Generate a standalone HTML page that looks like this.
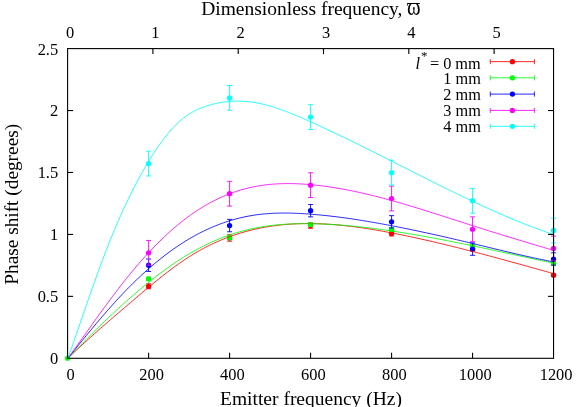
<!DOCTYPE html>
<html><head><meta charset="utf-8"><title>Phase shift</title>
<style>html,body{margin:0;padding:0;background:#fff;}svg{display:block;will-change:transform;}text{font-family:"Liberation Serif",serif;fill:#000;}</style></head><body>
<svg width="581" height="407" viewBox="0 0 581 407">
<rect x="0" y="0" width="581" height="407" fill="#ffffff"/>
<defs><clipPath id="pc"><rect x="68.0" y="48.3" width="485.5" height="309.9"/></clipPath></defs>
<g font-size="16.45">
<text x="70.60" y="380.3" text-anchor="middle">0</text>
<text x="151.52" y="380.3" text-anchor="middle">200</text>
<text x="232.43" y="380.3" text-anchor="middle">400</text>
<text x="313.35" y="380.3" text-anchor="middle">600</text>
<text x="394.27" y="380.3" text-anchor="middle">800</text>
<text x="475.18" y="380.3" text-anchor="middle">1000</text>
<text x="556.10" y="380.3" text-anchor="middle">1200</text>
<text x="70.10" y="38.0" text-anchor="middle">0</text>
<text x="155.40" y="38.0" text-anchor="middle">1</text>
<text x="240.70" y="38.0" text-anchor="middle">2</text>
<text x="326.00" y="38.0" text-anchor="middle">3</text>
<text x="411.30" y="38.0" text-anchor="middle">4</text>
<text x="496.60" y="38.0" text-anchor="middle">5</text>
<text x="58.2" y="364.40" text-anchor="end">0</text>
<text x="58.2" y="302.42" text-anchor="end">0.5</text>
<text x="58.2" y="240.44" text-anchor="end">1</text>
<text x="58.2" y="178.46" text-anchor="end">1.5</text>
<text x="58.2" y="116.48" text-anchor="end">2</text>
<text x="58.2" y="54.50" text-anchor="end">2.5</text>
</g>
<text x="201.2" y="14.8" font-size="19.5" text-anchor="start">Dimensionless frequency, </text>
<text transform="translate(407.0,15.1) scale(0.85,1)" font-size="24.3">&#x3D6;</text>
<text x="311" y="405" font-size="19.5" text-anchor="middle">Emitter frequency (Hz)</text>
<text transform="translate(18.0,204.3) rotate(-90)" font-size="19.32" text-anchor="middle">Phase shift (degrees)</text>
<path d="M148.59,283.82V288.78M146.09,283.82H151.09M146.09,288.78H151.09" stroke="#ff0000" stroke-width="0.9" fill="none"/><circle cx="148.59" cy="286.30" r="2.65" fill="#ff0000"/>
<path d="M229.58,234.74V241.18M227.08,234.74H232.08M227.08,241.18H232.08" stroke="#ff0000" stroke-width="0.9" fill="none"/><circle cx="229.58" cy="237.96" r="2.65" fill="#ff0000"/>
<path d="M310.57,222.84V228.29M308.07,222.84H313.07M308.07,228.29H313.07" stroke="#ff0000" stroke-width="0.9" fill="none"/><circle cx="310.57" cy="225.56" r="2.65" fill="#ff0000"/>
<path d="M391.57,231.02V235.98M389.07,231.02H394.07M389.07,235.98H394.07" stroke="#ff0000" stroke-width="0.9" fill="none"/><circle cx="391.57" cy="233.50" r="2.65" fill="#ff0000"/>
<path d="M472.56,247.75V250.73M470.06,247.75H475.06M470.06,250.73H475.06" stroke="#ff0000" stroke-width="0.9" fill="none"/><circle cx="472.56" cy="249.24" r="2.65" fill="#ff0000"/>
<path d="M553.55,273.66V276.63M551.05,273.66H556.05M551.05,276.63H556.05" stroke="#ff0000" stroke-width="0.9" fill="none"/><circle cx="553.55" cy="275.15" r="2.65" fill="#ff0000"/>
<circle cx="67.60" cy="358.20" r="2.65" fill="#00ff00"/>
<path d="M148.59,277.13V280.60M146.09,277.13H151.09M146.09,280.60H151.09" stroke="#00ff00" stroke-width="0.9" fill="none"/><circle cx="148.59" cy="278.87" r="2.65" fill="#00ff00"/>
<path d="M229.58,236.35V239.32M227.08,236.35H232.08M227.08,239.32H232.08" stroke="#00ff00" stroke-width="0.9" fill="none"/><circle cx="229.58" cy="237.83" r="2.65" fill="#00ff00"/>
<path d="M310.57,223.08V226.06M308.07,223.08H313.07M308.07,226.06H313.07" stroke="#00ff00" stroke-width="0.9" fill="none"/><circle cx="310.57" cy="224.57" r="2.65" fill="#00ff00"/>
<path d="M391.57,227.55V231.02M389.07,227.55H394.07M389.07,231.02H394.07" stroke="#00ff00" stroke-width="0.9" fill="none"/><circle cx="391.57" cy="229.28" r="2.65" fill="#00ff00"/>
<path d="M472.56,244.65V248.12M470.06,244.65H475.06M470.06,248.12H475.06" stroke="#00ff00" stroke-width="0.9" fill="none"/><circle cx="472.56" cy="246.39" r="2.65" fill="#00ff00"/>
<path d="M553.55,261.39V264.86M551.05,261.39H556.05M551.05,264.86H556.05" stroke="#00ff00" stroke-width="0.9" fill="none"/><circle cx="553.55" cy="263.12" r="2.65" fill="#00ff00"/>
<path d="M148.59,259.03V271.43M146.09,259.03H151.09M146.09,271.43H151.09" stroke="#0000ff" stroke-width="0.9" fill="none"/><circle cx="148.59" cy="265.23" r="2.65" fill="#0000ff"/>
<path d="M229.58,219.36V231.76M227.08,219.36H232.08M227.08,231.76H232.08" stroke="#0000ff" stroke-width="0.9" fill="none"/><circle cx="229.58" cy="225.56" r="2.65" fill="#0000ff"/>
<path d="M310.57,204.49V216.89M308.07,204.49H313.07M308.07,216.89H313.07" stroke="#0000ff" stroke-width="0.9" fill="none"/><circle cx="310.57" cy="210.69" r="2.65" fill="#0000ff"/>
<path d="M391.57,215.65V228.04M389.07,215.65H394.07M389.07,228.04H394.07" stroke="#0000ff" stroke-width="0.9" fill="none"/><circle cx="391.57" cy="221.84" r="2.65" fill="#0000ff"/>
<path d="M472.56,242.92V255.31M470.06,242.92H475.06M470.06,255.31H475.06" stroke="#0000ff" stroke-width="0.9" fill="none"/><circle cx="472.56" cy="249.12" r="2.65" fill="#0000ff"/>
<path d="M553.55,252.83V265.23M551.05,252.83H556.05M551.05,265.23H556.05" stroke="#0000ff" stroke-width="0.9" fill="none"/><circle cx="553.55" cy="259.03" r="2.65" fill="#0000ff"/>
<path d="M148.59,240.44V265.23M146.09,240.44H151.09M146.09,265.23H151.09" stroke="#ff00ff" stroke-width="0.9" fill="none"/><circle cx="148.59" cy="252.83" r="2.65" fill="#ff00ff"/>
<path d="M229.58,181.31V206.10M227.08,181.31H232.08M227.08,206.10H232.08" stroke="#ff00ff" stroke-width="0.9" fill="none"/><circle cx="229.58" cy="193.71" r="2.65" fill="#ff00ff"/>
<path d="M310.57,172.76V197.55M308.07,172.76H313.07M308.07,197.55H313.07" stroke="#ff00ff" stroke-width="0.9" fill="none"/><circle cx="310.57" cy="185.15" r="2.65" fill="#ff00ff"/>
<path d="M391.57,186.14V210.94M389.07,186.14H394.07M389.07,210.94H394.07" stroke="#ff00ff" stroke-width="0.9" fill="none"/><circle cx="391.57" cy="198.54" r="2.65" fill="#ff00ff"/>
<path d="M472.56,216.89V241.68M470.06,216.89H475.06M470.06,241.68H475.06" stroke="#ff00ff" stroke-width="0.9" fill="none"/><circle cx="472.56" cy="229.28" r="2.65" fill="#ff00ff"/>
<path d="M553.55,236.10V260.89M551.05,236.10H556.05M551.05,260.89H556.05" stroke="#ff00ff" stroke-width="0.9" fill="none"/><circle cx="553.55" cy="248.50" r="2.65" fill="#ff00ff"/>
<path d="M148.59,151.19V175.98M146.09,151.19H151.09M146.09,175.98H151.09" stroke="#00ffff" stroke-width="0.9" fill="none"/><circle cx="148.59" cy="163.58" r="2.65" fill="#00ffff"/>
<path d="M229.58,85.49V110.28M227.08,85.49H232.08M227.08,110.28H232.08" stroke="#00ffff" stroke-width="0.9" fill="none"/><circle cx="229.58" cy="97.88" r="2.65" fill="#00ffff"/>
<path d="M310.57,104.70V129.49M308.07,104.70H313.07M308.07,129.49H313.07" stroke="#00ffff" stroke-width="0.9" fill="none"/><circle cx="310.57" cy="117.10" r="2.65" fill="#00ffff"/>
<path d="M391.57,160.24V185.03M389.07,160.24H394.07M389.07,185.03H394.07" stroke="#00ffff" stroke-width="0.9" fill="none"/><circle cx="391.57" cy="172.63" r="2.65" fill="#00ffff"/>
<path d="M472.56,188.37V213.17M470.06,188.37H475.06M470.06,213.17H475.06" stroke="#00ffff" stroke-width="0.9" fill="none"/><circle cx="472.56" cy="200.77" r="2.65" fill="#00ffff"/>
<path d="M553.55,218.13V242.92M551.05,218.13H556.05M551.05,242.92H556.05" stroke="#00ffff" stroke-width="0.9" fill="none"/><circle cx="553.55" cy="230.52" r="2.65" fill="#00ffff"/>
<g clip-path="url(#pc)" fill="none">
<polyline points="68.00,358.20 70.02,356.24 72.05,354.30 74.07,352.38 76.09,350.47 78.11,348.58 80.14,346.69 82.16,344.83 84.18,342.97 86.21,341.13 88.23,339.29 90.25,337.47 92.28,335.66 94.30,333.86 96.32,332.07 98.34,330.29 100.37,328.51 102.39,326.74 104.41,324.98 106.44,323.22 108.46,321.47 110.48,319.73 112.50,317.99 114.53,316.25 116.55,314.52 118.57,312.79 120.60,311.06 122.62,309.33 124.64,307.60 126.66,305.88 128.69,304.15 130.71,302.42 132.73,300.70 134.76,298.97 136.78,297.25 138.80,295.53 140.82,293.81 142.85,292.10 144.87,290.40 146.89,288.70 148.92,287.01 150.94,285.33 152.96,283.67 154.99,282.01 157.01,280.37 159.03,278.74 161.05,277.12 163.08,275.52 165.10,273.94 167.12,272.38 169.15,270.83 171.17,269.30 173.19,267.80 175.21,266.32 177.24,264.86 179.26,263.42 181.28,262.01 183.31,260.63 185.33,259.27 187.35,257.94 189.38,256.64 191.40,255.37 193.42,254.13 195.44,252.92 197.47,251.74 199.49,250.59 201.51,249.47 203.54,248.38 205.56,247.31 207.58,246.27 209.60,245.26 211.63,244.28 213.65,243.33 215.67,242.40 217.70,241.49 219.72,240.62 221.74,239.77 223.76,238.94 225.79,238.14 227.81,237.37 229.83,236.62 231.86,235.89 233.88,235.19 235.90,234.51 237.93,233.86 239.95,233.23 241.97,232.62 243.99,232.03 246.02,231.47 248.04,230.92 250.06,230.40 252.09,229.90 254.11,229.42 256.13,228.97 258.15,228.53 260.18,228.11 262.20,227.71 264.22,227.34 266.25,226.98 268.27,226.64 270.29,226.32 272.31,226.02 274.34,225.74 276.36,225.48 278.38,225.23 280.41,225.00 282.43,224.79 284.45,224.60 286.48,224.42 288.50,224.27 290.52,224.12 292.54,224.00 294.57,223.89 296.59,223.79 298.61,223.72 300.64,223.65 302.66,223.61 304.68,223.57 306.70,223.56 308.73,223.55 310.75,223.56 312.77,223.59 314.80,223.63 316.82,223.68 318.84,223.74 320.86,223.82 322.89,223.91 324.91,224.01 326.93,224.13 328.96,224.26 330.98,224.40 333.00,224.55 335.02,224.71 337.05,224.88 339.07,225.07 341.09,225.26 343.12,225.47 345.14,225.68 347.16,225.91 349.19,226.14 351.21,226.39 353.23,226.64 355.25,226.91 357.28,227.18 359.30,227.46 361.32,227.75 363.35,228.05 365.37,228.35 367.39,228.66 369.41,228.98 371.44,229.31 373.46,229.64 375.48,229.98 377.51,230.33 379.53,230.68 381.55,231.04 383.57,231.41 385.60,231.78 387.62,232.16 389.64,232.54 391.67,232.92 393.69,233.31 395.71,233.71 397.74,234.11 399.76,234.51 401.78,234.92 403.80,235.34 405.83,235.75 407.85,236.17 409.87,236.60 411.90,237.03 413.92,237.46 415.94,237.90 417.96,238.34 419.99,238.79 422.01,239.24 424.03,239.69 426.06,240.15 428.08,240.61 430.10,241.07 432.12,241.54 434.15,242.01 436.17,242.48 438.19,242.96 440.22,243.44 442.24,243.92 444.26,244.41 446.29,244.90 448.31,245.39 450.33,245.89 452.35,246.38 454.38,246.88 456.40,247.39 458.42,247.89 460.45,248.40 462.47,248.92 464.49,249.43 466.51,249.95 468.54,250.47 470.56,250.99 472.58,251.51 474.61,252.04 476.63,252.56 478.65,253.09 480.68,253.63 482.70,254.16 484.72,254.69 486.74,255.23 488.77,255.77 490.79,256.31 492.81,256.86 494.84,257.40 496.86,257.95 498.88,258.49 500.90,259.04 502.93,259.59 504.95,260.14 506.97,260.70 509.00,261.25 511.02,261.80 513.04,262.36 515.06,262.92 517.09,263.48 519.11,264.03 521.13,264.59 523.16,265.15 525.18,265.72 527.20,266.28 529.23,266.84 531.25,267.40 533.27,267.97 535.29,268.53 537.32,269.09 539.34,269.66 541.36,270.22 543.39,270.79 545.41,271.35 547.43,271.92 549.45,272.48 551.48,273.05 553.50,273.61" stroke="#ff0000" stroke-width="0.85"/>
<polyline points="68.00,358.20 70.02,356.09 72.05,353.99 74.07,351.90 76.09,349.81 78.11,347.74 80.14,345.67 82.16,343.61 84.18,341.56 86.21,339.52 88.23,337.49 90.25,335.47 92.28,333.46 94.30,331.46 96.32,329.47 98.34,327.49 100.37,325.53 102.39,323.57 104.41,321.62 106.44,319.69 108.46,317.77 110.48,315.86 112.50,313.96 114.53,312.07 116.55,310.20 118.57,308.34 120.60,306.49 122.62,304.66 124.64,302.84 126.66,301.03 128.69,299.24 130.71,297.46 132.73,295.69 134.76,293.94 136.78,292.21 138.80,290.49 140.82,288.79 142.85,287.10 144.87,285.43 146.89,283.78 148.92,282.14 150.94,280.52 152.96,278.92 154.99,277.34 157.01,275.78 159.03,274.24 161.05,272.72 163.08,271.21 165.10,269.73 167.12,268.27 169.15,266.83 171.17,265.41 173.19,264.02 175.21,262.65 177.24,261.30 179.26,259.97 181.28,258.67 183.31,257.39 185.33,256.14 187.35,254.91 189.38,253.70 191.40,252.53 193.42,251.37 195.44,250.25 197.47,249.14 199.49,248.07 201.51,247.02 203.54,245.99 205.56,244.99 207.58,244.02 209.60,243.06 211.63,242.14 213.65,241.24 215.67,240.36 217.70,239.51 219.72,238.68 221.74,237.88 223.76,237.10 225.79,236.34 227.81,235.61 229.83,234.91 231.86,234.23 233.88,233.57 235.90,232.93 237.93,232.32 239.95,231.73 241.97,231.17 243.99,230.63 246.02,230.11 248.04,229.62 250.06,229.15 252.09,228.70 254.11,228.27 256.13,227.87 258.15,227.49 260.18,227.13 262.20,226.79 264.22,226.47 266.25,226.17 268.27,225.89 270.29,225.63 272.31,225.39 274.34,225.17 276.36,224.96 278.38,224.77 280.41,224.60 282.43,224.44 284.45,224.30 286.48,224.18 288.50,224.07 290.52,223.97 292.54,223.89 294.57,223.82 296.59,223.77 298.61,223.73 300.64,223.70 302.66,223.68 304.68,223.67 306.70,223.67 308.73,223.69 310.75,223.71 312.77,223.75 314.80,223.79 316.82,223.84 318.84,223.90 320.86,223.97 322.89,224.05 324.91,224.14 326.93,224.23 328.96,224.34 330.98,224.45 333.00,224.57 335.02,224.70 337.05,224.83 339.07,224.98 341.09,225.13 343.12,225.29 345.14,225.46 347.16,225.63 349.19,225.81 351.21,226.00 353.23,226.19 355.25,226.39 357.28,226.60 359.30,226.82 361.32,227.04 363.35,227.26 365.37,227.50 367.39,227.73 369.41,227.98 371.44,228.23 373.46,228.48 375.48,228.74 377.51,229.01 379.53,229.28 381.55,229.56 383.57,229.84 385.60,230.13 387.62,230.42 389.64,230.71 391.67,231.01 393.69,231.32 395.71,231.62 397.74,231.93 399.76,232.25 401.78,232.57 403.80,232.89 405.83,233.22 407.85,233.55 409.87,233.89 411.90,234.23 413.92,234.57 415.94,234.92 417.96,235.27 419.99,235.62 422.01,235.98 424.03,236.34 426.06,236.70 428.08,237.06 430.10,237.43 432.12,237.81 434.15,238.18 436.17,238.56 438.19,238.94 440.22,239.32 442.24,239.71 444.26,240.10 446.29,240.49 448.31,240.89 450.33,241.29 452.35,241.68 454.38,242.09 456.40,242.49 458.42,242.90 460.45,243.31 462.47,243.72 464.49,244.13 466.51,244.55 468.54,244.96 470.56,245.38 472.58,245.80 474.61,246.23 476.63,246.65 478.65,247.08 480.68,247.50 482.70,247.93 484.72,248.36 486.74,248.80 488.77,249.23 490.79,249.66 492.81,250.10 494.84,250.53 496.86,250.97 498.88,251.41 500.90,251.84 502.93,252.28 504.95,252.72 506.97,253.16 509.00,253.60 511.02,254.04 513.04,254.48 515.06,254.92 517.09,255.36 519.11,255.80 521.13,256.24 523.16,256.68 525.18,257.11 527.20,257.55 529.23,257.99 531.25,258.42 533.27,258.86 535.29,259.29 537.32,259.73 539.34,260.16 541.36,260.59 543.39,261.02 545.41,261.45 547.43,261.88 549.45,262.30 551.48,262.73 553.50,263.15" stroke="#00ff00" stroke-width="0.85"/>
<polyline points="68.00,358.20 70.02,355.67 72.05,353.15 74.07,350.63 76.09,348.12 78.11,345.62 80.14,343.12 82.16,340.63 84.18,338.16 86.21,335.69 88.23,333.23 90.25,330.79 92.28,328.35 94.30,325.94 96.32,323.53 98.34,321.14 100.37,318.77 102.39,316.41 104.41,314.07 106.44,311.75 108.46,309.44 110.48,307.16 112.50,304.90 114.53,302.66 116.55,300.44 118.57,298.24 120.60,296.07 122.62,293.93 124.64,291.80 126.66,289.71 128.69,287.64 130.71,285.60 132.73,283.59 134.76,281.60 136.78,279.64 138.80,277.71 140.82,275.81 142.85,273.94 144.87,272.10 146.89,270.28 148.92,268.49 150.94,266.73 152.96,265.00 154.99,263.30 157.01,261.63 159.03,259.98 161.05,258.37 163.08,256.78 165.10,255.22 167.12,253.69 169.15,252.19 171.17,250.72 173.19,249.28 175.21,247.86 177.24,246.48 179.26,245.12 181.28,243.80 183.31,242.50 185.33,241.24 187.35,240.00 189.38,238.79 191.40,237.61 193.42,236.47 195.44,235.35 197.47,234.26 199.49,233.20 201.51,232.17 203.54,231.16 205.56,230.19 207.58,229.25 209.60,228.33 211.63,227.44 213.65,226.58 215.67,225.75 217.70,224.95 219.72,224.17 221.74,223.43 223.76,222.71 225.79,222.02 227.81,221.35 229.83,220.72 231.86,220.11 233.88,219.52 235.90,218.97 237.93,218.44 239.95,217.94 241.97,217.46 243.99,217.02 246.02,216.59 248.04,216.20 250.06,215.83 252.09,215.49 254.11,215.17 256.13,214.87 258.15,214.61 260.18,214.36 262.20,214.14 264.22,213.94 266.25,213.76 268.27,213.60 270.29,213.47 272.31,213.35 274.34,213.26 276.36,213.18 278.38,213.12 280.41,213.08 282.43,213.06 284.45,213.05 286.48,213.06 288.50,213.08 290.52,213.12 292.54,213.17 294.57,213.24 296.59,213.32 298.61,213.41 300.64,213.51 302.66,213.63 304.68,213.75 306.70,213.89 308.73,214.03 310.75,214.19 312.77,214.35 314.80,214.52 316.82,214.69 318.84,214.88 320.86,215.07 322.89,215.27 324.91,215.48 326.93,215.70 328.96,215.92 330.98,216.15 333.00,216.39 335.02,216.63 337.05,216.88 339.07,217.14 341.09,217.40 343.12,217.67 345.14,217.95 347.16,218.23 349.19,218.52 351.21,218.81 353.23,219.11 355.25,219.42 357.28,219.73 359.30,220.05 361.32,220.37 363.35,220.70 365.37,221.03 367.39,221.37 369.41,221.71 371.44,222.05 373.46,222.40 375.48,222.76 377.51,223.12 379.53,223.48 381.55,223.85 383.57,224.22 385.60,224.60 387.62,224.98 389.64,225.36 391.67,225.75 393.69,226.14 395.71,226.53 397.74,226.93 399.76,227.33 401.78,227.73 403.80,228.14 405.83,228.55 407.85,228.96 409.87,229.38 411.90,229.79 413.92,230.21 415.94,230.64 417.96,231.06 419.99,231.49 422.01,231.93 424.03,232.36 426.06,232.80 428.08,233.24 430.10,233.68 432.12,234.13 434.15,234.57 436.17,235.02 438.19,235.47 440.22,235.93 442.24,236.39 444.26,236.84 446.29,237.30 448.31,237.77 450.33,238.23 452.35,238.70 454.38,239.17 456.40,239.64 458.42,240.11 460.45,240.59 462.47,241.06 464.49,241.54 466.51,242.02 468.54,242.50 470.56,242.99 472.58,243.47 474.61,243.96 476.63,244.44 478.65,244.93 480.68,245.42 482.70,245.91 484.72,246.40 486.74,246.89 488.77,247.38 490.79,247.88 492.81,248.37 494.84,248.86 496.86,249.34 498.88,249.83 500.90,250.32 502.93,250.80 504.95,251.29 506.97,251.77 509.00,252.25 511.02,252.73 513.04,253.20 515.06,253.68 517.09,254.15 519.11,254.61 521.13,255.08 523.16,255.54 525.18,255.99 527.20,256.45 529.23,256.89 531.25,257.34 533.27,257.78 535.29,258.21 537.32,258.64 539.34,259.07 541.36,259.49 543.39,259.90 545.41,260.31 547.43,260.71 549.45,261.11 551.48,261.50 553.50,261.88" stroke="#0000ff" stroke-width="0.85"/>
<polyline points="68.00,358.20 70.02,355.40 72.05,352.59 74.07,349.77 76.09,346.94 78.11,344.11 80.14,341.27 82.16,338.44 84.18,335.60 86.21,332.76 88.23,329.92 90.25,327.09 92.28,324.26 94.30,321.44 96.32,318.62 98.34,315.82 100.37,313.02 102.39,310.24 104.41,307.46 106.44,304.71 108.46,301.96 110.48,299.24 112.50,296.53 114.53,293.85 116.55,291.18 118.57,288.54 120.60,285.92 122.62,283.33 124.64,280.76 126.66,278.22 128.69,275.71 130.71,273.24 132.73,270.79 134.76,268.38 136.78,265.99 138.80,263.64 140.82,261.33 142.85,259.04 144.87,256.79 146.89,254.57 148.92,252.38 150.94,250.22 152.96,248.10 154.99,246.01 157.01,243.96 159.03,241.94 161.05,239.96 163.08,238.00 165.10,236.09 167.12,234.21 169.15,232.36 171.17,230.55 173.19,228.77 175.21,227.03 177.24,225.33 179.26,223.66 181.28,222.03 183.31,220.44 185.33,218.88 187.35,217.36 189.38,215.87 191.40,214.43 193.42,213.02 195.44,211.65 197.47,210.31 199.49,209.01 201.51,207.75 203.54,206.52 205.56,205.33 207.58,204.17 209.60,203.05 211.63,201.97 213.65,200.92 215.67,199.90 217.70,198.91 219.72,197.96 221.74,197.05 223.76,196.17 225.79,195.32 227.81,194.50 229.83,193.71 231.86,192.96 233.88,192.24 235.90,191.55 237.93,190.89 239.95,190.27 241.97,189.67 243.99,189.11 246.02,188.57 248.04,188.07 250.06,187.59 252.09,187.15 254.11,186.73 256.13,186.35 258.15,185.99 260.18,185.65 262.20,185.35 264.22,185.07 266.25,184.82 268.27,184.59 270.29,184.39 272.31,184.21 274.34,184.05 276.36,183.92 278.38,183.81 280.41,183.72 282.43,183.65 284.45,183.61 286.48,183.58 288.50,183.58 290.52,183.59 292.54,183.62 294.57,183.67 296.59,183.74 298.61,183.83 300.64,183.93 302.66,184.05 304.68,184.18 306.70,184.33 308.73,184.49 310.75,184.66 312.77,184.85 314.80,185.06 316.82,185.27 318.84,185.50 320.86,185.74 322.89,185.99 324.91,186.26 326.93,186.53 328.96,186.82 330.98,187.12 333.00,187.43 335.02,187.76 337.05,188.09 339.07,188.43 341.09,188.79 343.12,189.15 345.14,189.53 347.16,189.91 349.19,190.31 351.21,190.72 353.23,191.13 355.25,191.55 357.28,191.99 359.30,192.43 361.32,192.88 363.35,193.34 365.37,193.81 367.39,194.28 369.41,194.76 371.44,195.26 373.46,195.75 375.48,196.26 377.51,196.77 379.53,197.29 381.55,197.82 383.57,198.36 385.60,198.90 387.62,199.44 389.64,200.00 391.67,200.55 393.69,201.12 395.71,201.69 397.74,202.26 399.76,202.84 401.78,203.43 403.80,204.02 405.83,204.61 407.85,205.21 409.87,205.82 411.90,206.42 413.92,207.04 415.94,207.65 417.96,208.27 419.99,208.89 422.01,209.52 424.03,210.14 426.06,210.78 428.08,211.41 430.10,212.04 432.12,212.68 434.15,213.32 436.17,213.97 438.19,214.61 440.22,215.25 442.24,215.90 444.26,216.55 446.29,217.20 448.31,217.85 450.33,218.50 452.35,219.15 454.38,219.80 456.40,220.45 458.42,221.10 460.45,221.75 462.47,222.40 464.49,223.05 466.51,223.70 468.54,224.35 470.56,225.00 472.58,225.64 474.61,226.28 476.63,226.93 478.65,227.57 480.68,228.21 482.70,228.84 484.72,229.48 486.74,230.11 488.77,230.75 490.79,231.38 492.81,232.01 494.84,232.64 496.86,233.27 498.88,233.89 500.90,234.52 502.93,235.14 504.95,235.76 506.97,236.38 509.00,237.00 511.02,237.62 513.04,238.24 515.06,238.85 517.09,239.47 519.11,240.08 521.13,240.69 523.16,241.30 525.18,241.91 527.20,242.52 529.23,243.12 531.25,243.73 533.27,244.33 535.29,244.94 537.32,245.54 539.34,246.14 541.36,246.74 543.39,247.34 545.41,247.94 547.43,248.54 549.45,249.13 551.48,249.73 553.50,250.32" stroke="#ff00ff" stroke-width="0.85"/>
<polyline points="68.00,358.20 70.02,352.42 72.05,346.61 74.07,340.77 76.09,334.92 78.11,329.06 80.14,323.19 82.16,317.33 84.18,311.48 86.21,305.65 88.23,299.84 90.25,294.06 92.28,288.32 94.30,282.63 96.32,276.99 98.34,271.41 100.37,265.90 102.39,260.46 104.41,255.10 106.44,249.83 108.46,244.66 110.48,239.58 112.50,234.61 114.53,229.73 116.55,224.95 118.57,220.27 120.60,215.69 122.62,211.20 124.64,206.80 126.66,202.50 128.69,198.29 130.71,194.17 132.73,190.13 134.76,186.19 136.78,182.33 138.80,178.56 140.82,174.87 142.85,171.27 144.87,167.74 146.89,164.30 148.92,160.94 150.94,157.66 152.96,154.46 154.99,151.34 157.01,148.31 159.03,145.37 161.05,142.52 163.08,139.77 165.10,137.12 167.12,134.57 169.15,132.13 171.17,129.79 173.19,127.57 175.21,125.46 177.24,123.46 179.26,121.58 181.28,119.83 183.31,118.19 185.33,116.66 187.35,115.24 189.38,113.92 191.40,112.69 193.42,111.56 195.44,110.51 197.47,109.54 199.49,108.64 201.51,107.82 203.54,107.05 205.56,106.35 207.58,105.70 209.60,105.10 211.63,104.54 213.65,104.02 215.67,103.55 217.70,103.12 219.72,102.73 221.74,102.38 223.76,102.08 225.79,101.81 227.81,101.59 229.83,101.41 231.86,101.27 233.88,101.17 235.90,101.11 237.93,101.10 239.95,101.12 241.97,101.19 243.99,101.29 246.02,101.44 248.04,101.62 250.06,101.85 252.09,102.11 254.11,102.42 256.13,102.76 258.15,103.14 260.18,103.55 262.20,104.00 264.22,104.48 266.25,104.99 268.27,105.53 270.29,106.10 272.31,106.70 274.34,107.32 276.36,107.98 278.38,108.65 280.41,109.35 282.43,110.08 284.45,110.82 286.48,111.58 288.50,112.36 290.52,113.16 292.54,113.98 294.57,114.81 296.59,115.66 298.61,116.52 300.64,117.39 302.66,118.27 304.68,119.16 306.70,120.06 308.73,120.96 310.75,121.87 312.77,122.79 314.80,123.71 316.82,124.64 318.84,125.56 320.86,126.50 322.89,127.44 324.91,128.38 326.93,129.33 328.96,130.28 330.98,131.23 333.00,132.19 335.02,133.15 337.05,134.12 339.07,135.09 341.09,136.06 343.12,137.03 345.14,138.01 347.16,138.99 349.19,139.98 351.21,140.96 353.23,141.95 355.25,142.95 357.28,143.94 359.30,144.94 361.32,145.94 363.35,146.94 365.37,147.94 367.39,148.95 369.41,149.96 371.44,150.97 373.46,151.98 375.48,152.99 377.51,154.00 379.53,155.02 381.55,156.04 383.57,157.05 385.60,158.07 387.62,159.09 389.64,160.11 391.67,161.14 393.69,162.16 395.71,163.18 397.74,164.20 399.76,165.23 401.78,166.25 403.80,167.28 405.83,168.30 407.85,169.32 409.87,170.35 411.90,171.37 413.92,172.39 415.94,173.41 417.96,174.44 419.99,175.46 422.01,176.47 424.03,177.49 426.06,178.51 428.08,179.52 430.10,180.54 432.12,181.55 434.15,182.56 436.17,183.57 438.19,184.58 440.22,185.58 442.24,186.58 444.26,187.58 446.29,188.58 448.31,189.58 450.33,190.57 452.35,191.56 454.38,192.54 456.40,193.53 458.42,194.51 460.45,195.48 462.47,196.46 464.49,197.43 466.51,198.39 468.54,199.36 470.56,200.31 472.58,201.27 474.61,202.22 476.63,203.16 478.65,204.11 480.68,205.04 482.70,205.97 484.72,206.90 486.74,207.82 488.77,208.74 490.79,209.65 492.81,210.56 494.84,211.46 496.86,212.35 498.88,213.24 500.90,214.13 502.93,215.00 504.95,215.88 506.97,216.74 509.00,217.60 511.02,218.45 513.04,219.29 515.06,220.13 517.09,220.96 519.11,221.78 521.13,222.60 523.16,223.41 525.18,224.21 527.20,225.00 529.23,225.78 531.25,226.56 533.27,227.33 535.29,228.09 537.32,228.84 539.34,229.58 541.36,230.31 543.39,231.04 545.41,231.75 547.43,232.46 549.45,233.15 551.48,233.84 553.50,234.52" stroke="#00ffff" stroke-width="0.85"/>
</g>
<g stroke="#000" stroke-width="1.1" fill="none">
<rect x="67.6" y="48.6" width="485.94999999999993" height="309.7"/>
<line x1="148.59" y1="358.3" x2="148.59" y2="352.8"/>
<line x1="229.58" y1="358.3" x2="229.58" y2="352.8"/>
<line x1="310.57" y1="358.3" x2="310.57" y2="352.8"/>
<line x1="391.57" y1="358.3" x2="391.57" y2="352.8"/>
<line x1="472.56" y1="358.3" x2="472.56" y2="352.8"/>
<line x1="152.90" y1="48.6" x2="152.90" y2="54.1"/>
<line x1="238.20" y1="48.6" x2="238.20" y2="54.1"/>
<line x1="323.50" y1="48.6" x2="323.50" y2="54.1"/>
<line x1="408.80" y1="48.6" x2="408.80" y2="54.1"/>
<line x1="494.10" y1="48.6" x2="494.10" y2="54.1"/>
<line x1="67.6" y1="296.36" x2="73.1" y2="296.36"/>
<line x1="553.55" y1="296.36" x2="548.05" y2="296.36"/>
<line x1="67.6" y1="234.42" x2="73.1" y2="234.42"/>
<line x1="553.55" y1="234.42" x2="548.05" y2="234.42"/>
<line x1="67.6" y1="172.48" x2="73.1" y2="172.48"/>
<line x1="553.55" y1="172.48" x2="548.05" y2="172.48"/>
<line x1="67.6" y1="110.54" x2="73.1" y2="110.54"/>
<line x1="553.55" y1="110.54" x2="548.05" y2="110.54"/>
</g>
<text x="480.7" y="69.40" font-size="16.3" text-anchor="end"><tspan font-style="italic">l</tspan><tspan dx="0.8" dy="-9.1" font-size="13">*</tspan><tspan dx="-1.6" dy="9.1"> = 0 mm</tspan></text>
<path d="M490.3,61.65H534.4M490.3,59.15V64.15M534.4,59.15V64.15" stroke="#ff0000" stroke-width="0.85" fill="none"/>
<circle cx="512.4" cy="61.65" r="2.65" fill="#ff0000"/>
<text x="480.9" y="83.70" font-size="16.3" text-anchor="end">1 mm</text>
<path d="M490.3,77.8H534.4M490.3,75.3V80.3M534.4,75.3V80.3" stroke="#00ff00" stroke-width="0.85" fill="none"/>
<circle cx="512.4" cy="77.8" r="2.65" fill="#00ff00"/>
<text x="480.9" y="100.00" font-size="16.3" text-anchor="end">2 mm</text>
<path d="M490.3,94.1H534.4M490.3,91.6V96.6M534.4,91.6V96.6" stroke="#0000ff" stroke-width="0.85" fill="none"/>
<circle cx="512.4" cy="94.1" r="2.65" fill="#0000ff"/>
<text x="480.9" y="116.30" font-size="16.3" text-anchor="end">3 mm</text>
<path d="M490.3,110.4H534.4M490.3,107.9V112.9M534.4,107.9V112.9" stroke="#ff00ff" stroke-width="0.85" fill="none"/>
<circle cx="512.4" cy="110.4" r="2.65" fill="#ff00ff"/>
<text x="480.9" y="132.20" font-size="16.3" text-anchor="end">4 mm</text>
<path d="M490.3,126.3H534.4M490.3,123.8V128.8M534.4,123.8V128.8" stroke="#00ffff" stroke-width="0.85" fill="none"/>
<circle cx="512.4" cy="126.3" r="2.65" fill="#00ffff"/>
</svg></body></html>
